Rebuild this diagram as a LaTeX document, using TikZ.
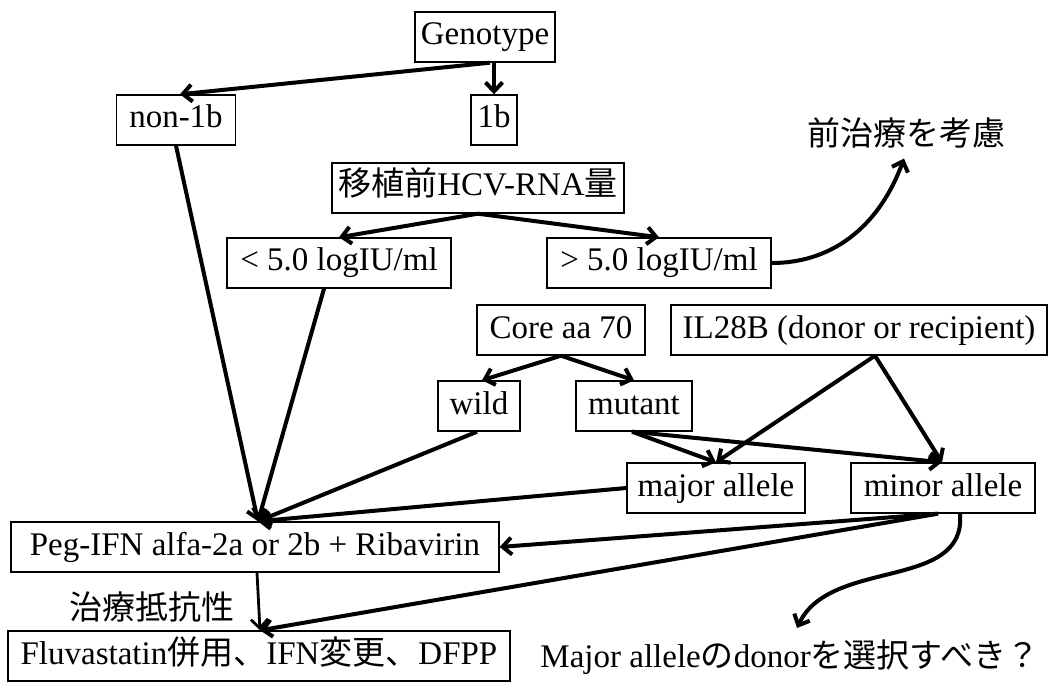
\documentclass[tikz,border=0pt]{standalone}
\usepackage{fontspec}
\setmainfont{Liberation Serif}
\newfontfamily\cjk{Noto Sans CJK JP}
\usetikzlibrary{arrows.meta,calc}
\begin{document}
\begin{tikzpicture}[x=1pt,y=-1pt,
  box/.style={draw, line width=1.4pt, inner sep=0pt, minimum height=50pt,
    font=\fontsize{33}{37}\selectfont, text height=23pt, text depth=7pt},
  lbl/.style={inner sep=0pt, font=\fontsize{33}{37}\selectfont},
  arr/.style={line width=4pt, -{Straight Barb[length=9pt,width=17pt]}},
  thinarr/.style={line width=2.8pt, -{Straight Barb[length=9pt,width=17pt]}}]
\useasboundingbox (0,0) rectangle (1062,684);
\fill[white] (0,0) rectangle (1062,684);
% boxes
\node[box, minimum width=140pt] (geno) at (485,37) {Genotype};
\node[box, minimum width=119pt] (non) at (176,120) {non-1b};
\node[box, minimum width=46pt] (oneb) at (494,120) {1b};
\node[lbl] (pre) at (906,133) {\cjk 前治療を考慮};
\node[box, minimum width=292pt] (rna) at (478,188) {{\cjk 移植前}HCV-RNA{\cjk 量}};
\node[box, minimum width=224pt] (lt) at (339,263) {< 5.0 logIU/ml};
\node[box, minimum width=224pt] (gt) at (659,263) {> 5.0 logIU/ml};
\node[box, minimum width=168pt] (core) at (561,330) {Core aa 70};
\node[box, minimum width=376pt] (il) at (859,330) {IL28B (donor or recipient)};
\node[box, minimum width=82pt] (wild) at (479,406) {wild};
\node[box, minimum width=116pt] (mut) at (634,406) {mutant};
\node[box, minimum width=178pt] (maj) at (716,488) {major allele};
\node[box, minimum width=184pt] (min) at (943,488) {minor allele};
\node[box, minimum width=488pt] (peg) at (255,547) {Peg-IFN alfa-2a or 2b + Ribavirin};
\node[lbl] (res) at (152,607) {\cjk 治療抵抗性};
\node[box, minimum width=502pt] (flu) at (259,656) {Fluvastatin{\cjk 併用、}IFN{\cjk 変更、}DFPP};
\node[lbl] (q) at (790,657) {Major allele{\cjk の}donor{\cjk を選択すべき？}};
% named points
\coordinate (pt) at ($(peg.north)+(3,0)$);
\coordinate (pretip) at ($(pre.south)+(-2,10)$);
\coordinate (qtip) at (797,628);
% connectors
\draw[arr] ([xshift=5pt]geno.south) -- ([xshift=4pt]non.north);
\draw[arr] (oneb.north |- geno.south) -- (oneb.north);
\draw[arr] (non.south) -- (pt);
\draw[arr] (rna.south) -- (lt.north);
\draw[arr] (rna.south) -- (gt.north);
\draw[arr] (gt.east) to[out=0,in=-110] (pretip);
\draw[arr] (core.south) -- ([xshift=3pt]wild.north);
\draw[arr] (core.south) -- (mut.north);
\draw[arr] ([xshift=-15pt]lt.south) -- (pt);
\draw[arr] ([xshift=-2pt]wild.south) -- (pt);
\draw[arr] ([xshift=-2pt]mut.south) -- (maj.north);
\draw[arr] ([xshift=-2pt]mut.south) -- ([xshift=-1pt]min.north);
\draw[arr] ([xshift=16pt]il.south) -- (maj.north);
\draw[arr] ([xshift=16pt]il.south) -- ([xshift=-1pt]min.north);
\draw[arr] (maj.west) -- (pt);
\draw[arr] ([xshift=-5pt]min.south) -- (peg.east);
\draw[arr] ([xshift=-5pt]min.south) -- ([xshift=1pt]flu.north);
\draw[thinarr] ([xshift=2pt]peg.south) -- ([xshift=1pt]flu.north);
\draw[arr] ([xshift=17pt]min.south) to[out=-85,in=65] (qtip);
\end{tikzpicture}
\end{document}
